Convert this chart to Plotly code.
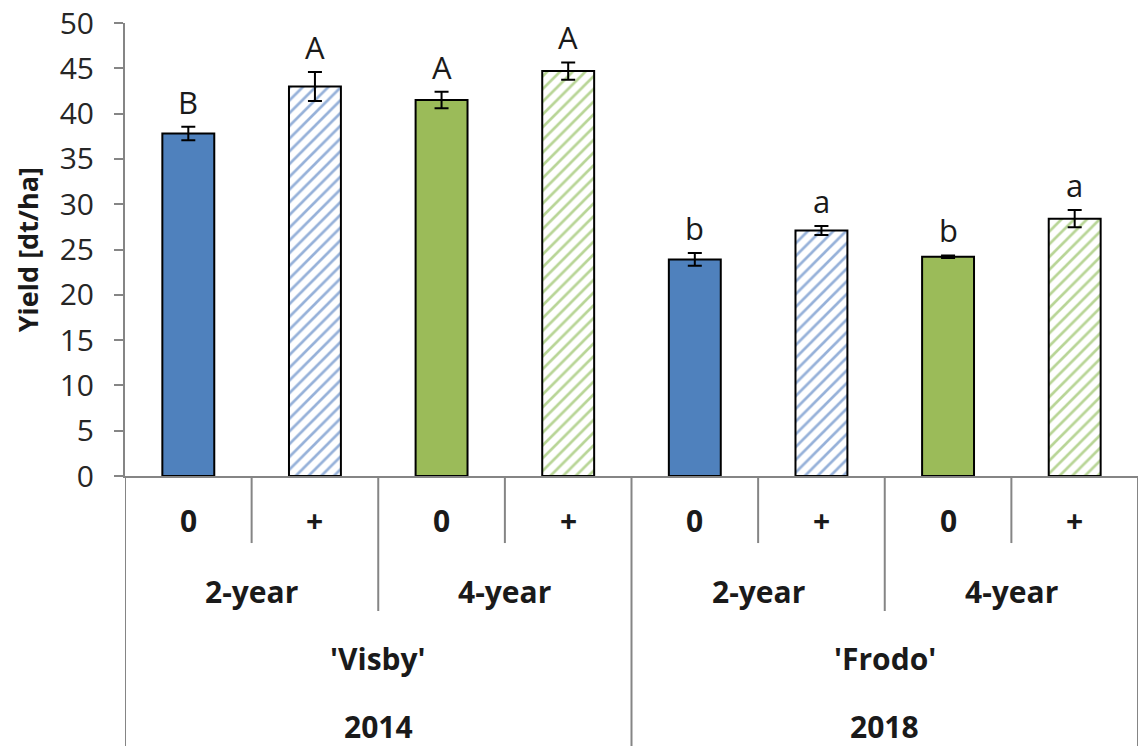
import plotly.graph_objects as go

# ---- data ----
signs = ["0", "+", "0", "+", "0", "+", "0", "+"]
rotations = ["2-year", "4-year", "2-year", "4-year"]
cultivars = ["'Visby'", "'Frodo'"]
years = ["2014", "2018"]
yield_mean = [37.8, 43.0, 41.5, 44.7, 23.9, 27.1, 24.2, 28.4]
yield_err = [0.75, 1.6, 0.9, 0.95, 0.7, 0.5, 0.15, 0.95]
letters = ["B", "A", "A", "A", "b", "a", "b", "a"]

BLUE = "#4F81BD"
GREEN = "#9BBB59"
BLUE_HATCH = "#2E64B4"
GREEN_HATCH = "#72AC2E"
# series: (indices, fill colour, hatched, hatch colour)
series = [
    ([0, 4], BLUE, False, None),
    ([1, 5], BLUE, True, BLUE_HATCH),
    ([2, 6], GREEN, False, None),
    ([3, 7], GREEN, True, GREEN_HATCH),
]

FONT = "Open Sans"
TXT = "#1a1a1a"
GRAY = "#858585"

fig = go.Figure()
for idx, col, hatched, hcol in series:
    xs = idx
    ys = [yield_mean[i] for i in idx]
    es = [yield_err[i] for i in idx]
    if hatched:
        marker = dict(color="white", line=dict(color="black", width=2),
                      pattern=dict(shape="/", fgcolor=hcol, bgcolor="white",
                                   size=9, solidity=0.3, fillmode="overlay"))
    else:
        marker = dict(color=col, line=dict(color="black", width=2))
    fig.add_trace(go.Bar(
        x=xs, y=ys, width=0.41, marker=marker,
        error_y=dict(type="data", array=es, visible=True,
                     color="black", thickness=2, width=7),
        showlegend=False, hoverinfo="skip",
    ))

annotations = []
# significance letters
for i, (m, e, l) in enumerate(zip(yield_mean, yield_err, letters)):
    annotations.append(dict(x=i, y=m + e, xref="x", yref="y", text=l,
                            showarrow=False, xanchor="center", yanchor="bottom", yshift=2,
                            font=dict(family=FONT, size=31, color=TXT)))

# hierarchical category labels
row_y = [-0.098, -0.256, -0.402, -0.552]
def lab(xv, yv, t):
    return dict(x=xv, y=yv, xref="x", yref="paper", text=t, showarrow=False,
                xanchor="center", yanchor="middle",
                font=dict(family=FONT, size=30, color=TXT, weight="bold"))
for i, s in enumerate(signs):
    annotations.append(lab(i, row_y[0], s))
for j, r in enumerate(rotations):
    annotations.append(lab(2 * j + 0.5, row_y[1], r))
for j, c in enumerate(cultivars):
    annotations.append(lab(4 * j + 1.5, row_y[2], c))
for j, yr in enumerate(years):
    annotations.append(lab(4 * j + 1.5, row_y[3], yr))

# y title
annotations.append(dict(x=-0.096, y=0.5, xref="paper", yref="paper", text="Yield [dt/ha]",
                        textangle=-90, showarrow=False, xanchor="center", yanchor="middle",
                        font=dict(family=FONT, size=27, color=TXT, weight="bold")))

shapes = []
sep_levels = {0.5: -0.148, 2.5: -0.148, 4.5: -0.148, 6.5: -0.148,
              1.5: -0.298, 5.5: -0.298,
              -0.5: -0.62, 3.5: -0.62, 7.5: -0.62}
for sx, bottom in sep_levels.items():
    shapes.append(dict(type="line", xref="x", yref="paper", x0=sx, x1=sx, y0=0, y1=bottom,
                       line=dict(color=GRAY, width=2)))

fig.update_layout(
    width=1138, height=746,
    margin=dict(l=125, r=0, t=23, b=270, autoexpand=False),
    paper_bgcolor="white", plot_bgcolor="white",
    annotations=annotations, shapes=shapes,
    barmode="overlay",
    xaxis=dict(range=[-0.5, 7.5], showticklabels=False, showgrid=False, zeroline=False,
               showline=True, linecolor=GRAY, linewidth=2, ticks="", automargin=False),
    yaxis=dict(range=[0, 50], dtick=5, showgrid=False, zeroline=False,
               showline=True, linecolor=GRAY, linewidth=2,
               ticks="outside", ticklen=9, tickwidth=2, tickcolor=GRAY,
               ticklabelstandoff=14, ticklabeloverflow="allow", automargin=False,
               tickfont=dict(family=FONT, size=30, color="#262626")),
)

fig.write_html("out.html", config={"displayModeBar": False},
               post_script="document.body.style.margin='0';")
